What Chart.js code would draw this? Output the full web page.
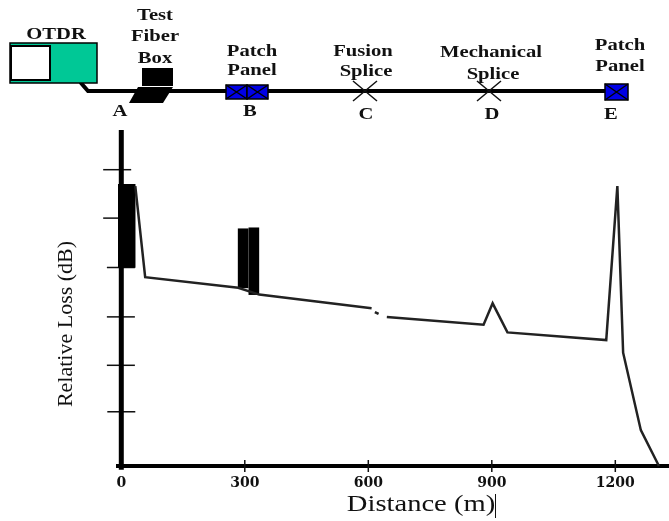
<!DOCTYPE html>
<html>
<head>
<meta charset="utf-8">
<title>OTDR trace</title>
<script src="https://cdn.jsdelivr.net/npm/chart.js@4"></script>
<style>
  html, body { margin: 0; padding: 0; background: #fff; }
  canvas { display: block; filter: blur(0.45px); }
</style>
</head>
<body>
<canvas id="otdr_chart" width="669" height="521"></canvas>
<script>
// values, the y axis has no numbers so dB are estimated
const xTicks = [0, 300, 600, 900, 1200];
const yTicks = [5.6, 10.4, 15.4, 20.5, 25.6, 30.6];
const yTickCenter = [0, -1, -1, -1, -10, -10];
const traceDistance = [34, 58, 284, 335, 608, null, 616, 625, null, 645, 880, 902, 938, 1178, 1205, 1219, 1262, 1306];
const traceLoss = [28.9, 19.5, 18.4, 17.7, 16.3, null, 15.9, 15.7, null, 15.4, 14.6, 16.8, 13.8, 13.0, 28.9, 11.7, 3.7, 0];
const launchDistance = [13];
const launchRange = [[20.5, 29.1]];
const patchDistance = [296, 322];
const patchRange = [[18.4, 24.5], [17.7, 24.6]];

const eventNames = ["A", "B", "C", "D", "E"];

const xMin = -8;
const xMax = 1328;

function toPoints(xs, ys) {
    return xs.map((x, i) => ({ x: x, y: ys[i] }));
}

function putText(ctx, text, x, y, font, stretch) {
    ctx.save();
    ctx.font = font;
    ctx.fillStyle = "#111";
    ctx.textAlign = "center";
    ctx.textBaseline = "middle";
    ctx.translate(x, y);
    ctx.scale(stretch || 1, 1);
    ctx.fillText(text, 0, 0);
    ctx.restore();
}

function crossBox(ctx, x, y, w, h) {
    ctx.fillStyle = "#0000e6";
    ctx.strokeStyle = "#000";
    ctx.lineWidth = 1.5;
    ctx.fillRect(x, y, w, h);
    ctx.strokeRect(x, y, w, h);
    ctx.beginPath();
    ctx.moveTo(x, y); ctx.lineTo(x + w, y + h);
    ctx.moveTo(x + w, y); ctx.lineTo(x, y + h);
    ctx.stroke();
}

function crossMark(ctx, x, y) {
    ctx.strokeStyle = "#111";
    ctx.lineWidth = 1.5;
    ctx.beginPath();
    ctx.moveTo(x - 12, y - 10); ctx.lineTo(x + 12, y + 10);
    ctx.moveTo(x + 12, y - 10); ctx.lineTo(x - 12, y + 10);
    ctx.stroke();
}

// the fibre sketch above the plot and the two axis titles
const fiberSketch = {
    id: "fiberSketch",
    afterDraw(chart) {
        const ctx = chart.ctx;
        const labelFont = "bold 16.5px 'Liberation Serif'";
        const wide = 1.25;
        const eventX = [120, 250, 366, 492, 611];

        ctx.save();
        ctx.strokeStyle = "#000";
        ctx.lineCap = "round";
        ctx.lineWidth = 4;
        ctx.beginPath();
        ctx.moveTo(81, 83); ctx.lineTo(88, 91); ctx.lineTo(606, 91);
        ctx.stroke();
        ctx.lineCap = "butt";

        ctx.fillStyle = "#00c896";
        ctx.lineWidth = 1.5;
        ctx.fillRect(10, 43, 87, 40);
        ctx.strokeRect(10, 43, 87, 40);
        ctx.fillStyle = "#fff";
        ctx.lineWidth = 2;
        ctx.fillRect(11, 46, 39, 34);
        ctx.strokeRect(11, 46, 39, 34);

        ctx.fillStyle = "#000";
        ctx.fillRect(142, 68, 31, 18);
        ctx.beginPath();
        ctx.moveTo(138, 87); ctx.lineTo(173, 87); ctx.lineTo(163, 103); ctx.lineTo(129, 103);
        ctx.closePath();
        ctx.fill();

        crossBox(ctx, 226, 85, 21, 14);
        crossBox(ctx, 247, 85, 21, 14);
        crossMark(ctx, 365, 91);
        crossMark(ctx, 489, 91);
        crossBox(ctx, 605, 84, 23, 16);

        putText(ctx, "OTDR", 56, 35, labelFont, wide);
        putText(ctx, "Test", 155, 16, labelFont, wide);
        putText(ctx, "Fiber", 155, 37, labelFont, wide);
        putText(ctx, "Box", 155, 59, labelFont, wide);
        putText(ctx, "Patch", 252, 52, labelFont, wide);
        putText(ctx, "Panel", 252, 71, labelFont, wide);
        putText(ctx, "Fusion", 363, 52, labelFont, wide);
        putText(ctx, "Splice", 366, 72, labelFont, wide);
        putText(ctx, "Mechanical", 491, 53, labelFont, wide);
        putText(ctx, "Splice", 493, 75, labelFont, wide);
        putText(ctx, "Patch", 620, 46, labelFont, wide);
        putText(ctx, "Panel", 620, 67, labelFont, wide);
        eventNames.forEach((name, i) => {
            putText(ctx, name, eventX[i], i < 2 ? 112 : 115, labelFont, wide);
        });

        // axis titles
        putText(ctx, "Distance (m)", 421, 505, "24px 'Liberation Serif'", 1.19);
        ctx.fillStyle = "#111";
        ctx.fillRect(495, 494, 1, 24);
        ctx.save();
        ctx.translate(66, 324);
        ctx.rotate(-Math.PI / 2);
        putText(ctx, "Relative Loss (dB)", 0, 0, "22px 'Liberation Serif'");
        ctx.restore();
        ctx.restore();
    }
};

const chart = new Chart(document.getElementById("otdr_chart").getContext("2d"), {
    type: "line",
    plugins: [fiberSketch],
    data: {
        datasets: [
            {
                data: toPoints(traceDistance, traceLoss),
                borderColor: "#222",
                borderWidth: 2.5,
                pointRadius: 0,
                tension: 0,
                spanGaps: false,
                clip: false
            },
            {
                type: "bar",
                data: toPoints(launchDistance, launchRange),
                backgroundColor: "#000",
                barThickness: 17,
                grouped: false
            },
            {
                type: "bar",
                data: toPoints(patchDistance, patchRange),
                backgroundColor: "#000",
                barThickness: 10,
                grouped: false
            },
            {
                // y axis line, stands a bit below the x axis like the original
                data: [{ x: 0, y: -0.4 }, { x: 0, y: 34.7 }],
                borderColor: "#000",
                borderWidth: 5,
                pointRadius: 0,
                clip: false
            },
            {
                data: toPoints(yTickCenter, yTicks),
                showLine: false,
                pointStyle: "line",
                pointRadius: 14,
                pointBorderColor: "#111",
                pointBorderWidth: 1.5,
                clip: false
            },
            {
                data: xTicks.slice(1).map(v => ({ x: v, y: 0 })),
                showLine: false,
                pointStyle: "line",
                rotation: 90,
                pointRadius: 6,
                pointBorderColor: "#111",
                pointBorderWidth: 1.5,
                clip: false
            }
        ]
    },
    options: {
        responsive: false,
        animation: false,
        layout: { autoPadding: false, padding: { top: 130 } },
        plugins: { legend: { display: false }, tooltip: { enabled: false } },
        scales: {
            x: {
                type: "linear",
                offset: false,
                min: xMin,
                max: xMax,
                afterFit(scale) { scale.height = 55; },
                // empty last tick so the axis runs to the edge of the canvas
                afterBuildTicks(scale) { scale.ticks = xTicks.concat(xMax).map(v => ({ value: v })); },
                grid: { display: false },
                border: { display: true, width: 4, color: "#000" },
                ticks: {
                    maxRotation: 0,
                    autoSkip: false,
                    padding: 1,
                    color: "#111",
                    callback: v => xTicks.includes(v) ? String(v) : "",
                    font: { family: "'DejaVu Serif'", weight: "bold", size: 14 }
                }
            },
            y: {
                min: 0,
                max: 34.7,
                afterFit(scale) { scale.width = 118; },
                grid: { display: false },
                border: { display: false },
                ticks: { display: false }
            }
        }
    }
});
</script>
</body>
</html>
